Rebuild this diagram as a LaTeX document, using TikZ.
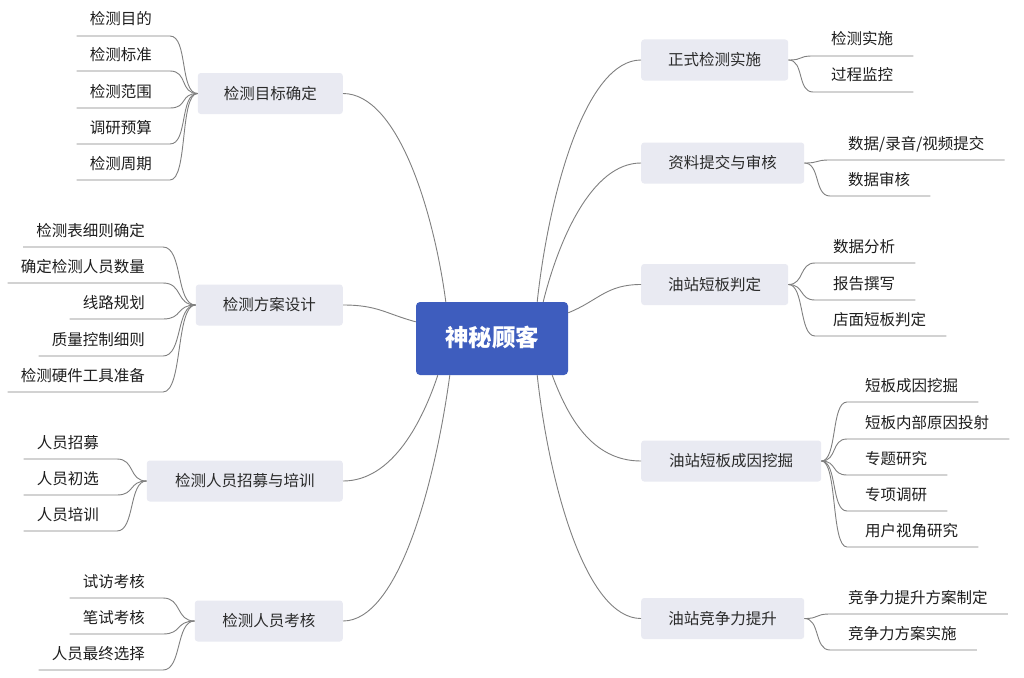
\documentclass[tikz,border=0pt]{standalone}
\usepackage{fontspec}
\setmainfont{Noto Sans CJK SC}
\usetikzlibrary{calc}
\definecolor{rootblue}{HTML}{3E5DBE}
\definecolor{boxfill}{HTML}{E9EAF2}
\definecolor{branchtext}{HTML}{2A2A2A}
\definecolor{leaftext}{HTML}{1E1E1E}
\definecolor{linegray}{HTML}{808080}
\tikzset{
  root/.style={rectangle, rounded corners=4pt, fill=rootblue, text=white,
    font=\fontsize{23.5}{26}\selectfont\bfseries, minimum width=152pt, minimum height=73pt,
    inner sep=0pt, text height=16.8pt, text depth=0pt},
  branch/.style={rectangle, rounded corners=3pt, fill=boxfill, text=branchtext,
    font=\fontsize{15.5}{18}\selectfont, minimum height=41pt, inner sep=0pt,
    text height=11.8pt, text depth=0pt},
  lleaf/.style={anchor=south east, inner xsep=0pt, inner ysep=10.8pt, text depth=0pt,
    text=leaftext, font=\fontsize{15.5}{18}\selectfont,
    execute at begin node={\hspace*{13pt}}, execute at end node={\hspace*{18pt}}},
  rleaf/.style={anchor=south west, inner xsep=0pt, inner ysep=10.8pt, text depth=0pt,
    text=leaftext, font=\fontsize{15.5}{18}\selectfont,
    execute at begin node={\hspace*{18pt}}, execute at end node={\hspace*{20pt}}},
  conn/.style={draw=linegray, line width=0.9pt}
}
\begin{document}
\begin{tikzpicture}[x=1pt,y=-1pt]
\fill[white] (0,0) rectangle (1024,677);
\useasboundingbox (0,0) rectangle (1024,677);

% root
\node[root] (c) at (492,338.5) {神秘顾客};
\coordinate (cB1) at ($(c.north west)+(30,0)$);
\coordinate (cB2) at ($(c.north west)+(0,20)$);
\coordinate (cB3) at ($(c.south west)+(22,0)$);
\coordinate (cB4) at ($(c.south west)+(34,0)$);
\coordinate (cR1) at ($(c.north east)+(-31,0)$);
\coordinate (cR2) at ($(c.north east)+(-25,0)$);
\coordinate (cR3) at ($(c.north east)+(0,11)$);
\coordinate (cR4) at ($(c.south east)+(-16,0)$);
\coordinate (cR5) at ($(c.south east)+(-31,0)$);

% branches
\node[branch, minimum width=145pt, anchor=east] (B1) at (343,93.5) {检测目标确定};
\node[branch, minimum width=147pt, anchor=east] (B2) at (343,305) {检测方案设计};
\node[branch, minimum width=196pt, anchor=east] (B3) at (343,481) {检测人员招募与培训};
\node[branch, minimum width=148pt, anchor=east] (B4) at (343,621) {检测人员考核};
\node[branch, minimum width=147pt, anchor=west] (R1) at (641,60) {正式检测实施};
\node[branch, minimum width=163pt, anchor=west] (R2) at (641,163) {资料提交与审核};
\node[branch, minimum width=147pt, anchor=west] (R3) at (641,284.5) {油站短板判定};
\node[branch, minimum width=180pt, anchor=west] (R4) at (641,461) {油站短板成因挖掘};
\node[branch, minimum width=163pt, anchor=west] (R5) at (641,618.5) {油站竞争力提升};

% root connectors
\draw[conn] (B1.east) .. controls +(55,0) and +(-12,-90) .. (cB1);
\draw[conn] (B2.east) .. controls +(35,0) and +(-30,-8) .. (cB2);
\draw[conn] (B3.east) .. controls +(50,0) and +(-15,45) .. (cB3);
\draw[conn] (B4.east) .. controls +(55,0) and +(-15,110) .. (cB4);
\draw[conn] (R1.west) .. controls +(-55,0) and +(12,-110) .. (cR1);
\draw[conn] (R2.west) .. controls +(-50,0) and +(15,-60) .. (cR2);
\draw[conn] (R3.west) .. controls +(-35,0) and +(30,-12) .. (cR3);
\draw[conn] (R4.west) .. controls +(-50,0) and +(15,40) .. (cR4);
\draw[conn] (R5.west) .. controls +(-55,0) and +(12,110) .. (cR5);

% leaves B1
\node[lleaf] (b11) at (170,36) {检测目的};
\node[lleaf] (b12) at (170,71) {检测标准};
\node[lleaf] (b13) at (170,108) {检测范围};
\node[lleaf] (b14) at (170,144) {调研预算};
\node[lleaf] (b15) at (170,180) {检测周期};
\foreach \n in {b11,b12,b13,b14,b15}
  \draw[conn] (B1.west) .. controls +(-18,0) and +(18,0) .. (\n.south east) -- (\n.south west);

% leaves B2
\node[lleaf] (b21) at (163,247) {检测表细则确定};
\node[lleaf] (b22) at (163,283) {确定检测人员数量};
\node[lleaf] (b23) at (163,319) {线路规划};
\node[lleaf] (b24) at (163,356) {质量控制细则};
\node[lleaf] (b25) at (163,392) {检测硬件工具准备};
\foreach \n in {b21,b22,b23,b24,b25}
  \draw[conn] (B2.west) .. controls +(-20,0) and +(20,0) .. (\n.south east) -- (\n.south west);

% leaves B3
\node[lleaf] (b31) at (117,459) {人员招募};
\node[lleaf] (b32) at (117,495) {人员初选};
\node[lleaf] (b33) at (117,531) {人员培训};
\foreach \n in {b31,b32,b33}
  \draw[conn] (B3.west) .. controls +(-18,0) and +(18,0) .. (\n.south east) -- (\n.south west);

% leaves B4
\node[lleaf] (b41) at (163,598) {试访考核};
\node[lleaf] (b42) at (163,634) {笔试考核};
\node[lleaf] (b43) at (163,670) {人员最终选择};
\foreach \n in {b41,b42,b43}
  \draw[conn] (B4.west) .. controls +(-19,0) and +(19,0) .. (\n.south east) -- (\n.south west);

% leaves R1
\node[rleaf] (r11) at (813,56) {检测实施};
\node[rleaf] (r12) at (813,92) {过程监控};
\foreach \n in {r11,r12}
  \draw[conn] (R1.east) .. controls +(16,0) and +(-16,0) .. (\n.south west) -- (\n.south east);

% leaves R2
\node[rleaf] (r21) at (830,160) {数据/录音/视频提交};
\node[rleaf] (r22) at (830,196) {数据审核};
\foreach \n in {r21,r22}
  \draw[conn] (R2.east) .. controls +(16,0) and +(-16,0) .. (\n.south west) -- (\n.south east);

% leaves R3
\node[rleaf] (r31) at (815,263) {数据分析};
\node[rleaf] (r32) at (815,300) {报告撰写};
\node[rleaf] (r33) at (815,336) {店面短板判定};
\foreach \n in {r31,r32,r33}
  \draw[conn] (R3.east) .. controls +(16,0) and +(-16,0) .. (\n.south west) -- (\n.south east);

% leaves R4
\node[rleaf] (r41) at (847,402) {短板成因挖掘};
\node[rleaf] (r42) at (847,439) {短板内部原因投射};
\node[rleaf] (r43) at (847,475) {专题研究};
\node[rleaf] (r44) at (847,511) {专项调研};
\node[rleaf] (r45) at (847,547) {用户视角研究};
\foreach \n in {r41,r42,r43,r44,r45}
  \draw[conn] (R4.east) .. controls +(16,0) and +(-16,0) .. (\n.south west) -- (\n.south east);

% leaves R5
\node[rleaf] (r51) at (830,614) {竞争力提升方案制定};
\node[rleaf] (r52) at (830,650) {竞争力方案实施};
\foreach \n in {r51,r52}
  \draw[conn] (R5.east) .. controls +(16,0) and +(-16,0) .. (\n.south west) -- (\n.south east);
\end{tikzpicture}
\end{document}
